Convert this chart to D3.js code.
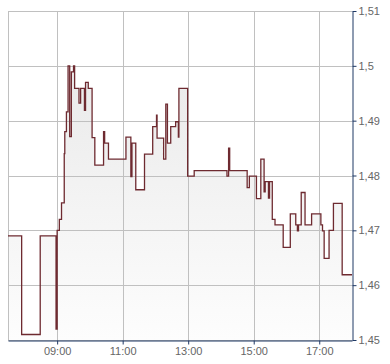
<!DOCTYPE html>
<html>
<head>
<meta charset="utf-8">
<script src="https://cdn.jsdelivr.net/npm/d3@7"></script>
<style>
  body { margin: 0; background: #fff; }
  svg { display: block; }
  .tick text { font: 11px "Liberation Sans", Arial, sans-serif; fill: #666; }
</style>
</head>
<body>
<svg id="chart"></svg>
<script>
// Intraday price steps (time, price)
const times = [
  '07:30','07:55','08:29','08:58','09:00','09:04','09:08','09:13','09:14','09:17',
  '09:20','09:23','09:26','09:30','09:32','09:40','09:43','09:50','09:52','09:57',
  '10:04','10:09','10:25','10:27','10:34','11:06','11:15','11:17','11:24','11:40',
  '11:55','12:02','12:03','12:15','12:19','12:22','12:28','12:37','12:42','12:43',
  '12:59','13:11','14:11','14:14','14:16','14:48','14:52','15:05','15:13','15:19',
  '15:21','15:27','15:29','15:34','15:39','15:54','16:07','16:17','16:20','16:22',
  '16:27','16:34','16:46','17:03','17:06','17:09','17:18','17:26','17:42','18:00'
];
const prices = [
  1.469, 1.451, 1.469, 1.452, 1.470, 1.472, 1.475, 1.484, 1.488, 1.4916,
  1.500, 1.4871, 1.4989, 1.500, 1.4959, 1.4932, 1.4959, 1.4919, 1.497, 1.4959,
  1.4869, 1.4819, 1.488, 1.4859, 1.483, 1.487, 1.4798, 1.4859, 1.4774, 1.4839,
  1.4889, 1.491, 1.4868, 1.483, 1.493, 1.4859, 1.4889, 1.4898, 1.487, 1.4959,
  1.4799, 1.4809, 1.4799, 1.485, 1.4809, 1.4778, 1.4799, 1.4758, 1.483, 1.477,
  1.4789, 1.4759, 1.4789, 1.472, 1.471, 1.4669, 1.473, 1.471, 1.4699, 1.471,
  1.4769, 1.471, 1.473, 1.471, 1.4699, 1.4649, 1.470, 1.4749, 1.4619, 1.4619
];
const xTickLabels = ['09:00', '11:00', '13:00', '15:00', '17:00'];
const yTicks = [1.45, 1.46, 1.47, 1.48, 1.49, 1.50, 1.51];
const xDomain = ['07:30', '18:00'];
const yDomain = [1.45, 1.51];

const width = 390, height = 364;
const margin = { top: 11, right: 38, bottom: 24, left: 8 };
const innerW = width - margin.left - margin.right;
const innerH = height - margin.top - margin.bottom;

const parseTime = d3.timeParse('%H:%M');
const data = times.map((t, i) => ({ t: parseTime(t), v: prices[i] }));

const svg = d3.select('#chart').attr('width', width).attr('height', height);

const x = d3.scaleTime().domain(xDomain.map(parseTime)).range([0, innerW]);
const y = d3.scaleLinear().domain(yDomain).range([innerH, 0]);

const defs = svg.append('defs');
const grad = defs.append('linearGradient')
  .attr('id', 'fillGrad')
  .attr('gradientUnits', 'userSpaceOnUse')
  .attr('x1', 0).attr('y1', 0).attr('x2', 0).attr('y2', innerH);
grad.append('stop').attr('offset', '0%').attr('stop-color', '#e6e6e6');
grad.append('stop').attr('offset', '100%').attr('stop-color', '#fdfdfd');

const g = svg.append('g').attr('transform', `translate(${margin.left},${margin.top})`);

// filled area under the step line
const area = d3.area()
  .curve(d3.curveStepAfter)
  .x(d => x(d.t))
  .y0(innerH)
  .y1(d => y(d.v));

g.append('path')
  .datum(data)
  .attr('d', area)
  .attr('fill', 'url(#fillGrad)');

// grid
const crisp = v => Math.round(v) + 0.5;
g.append('g').selectAll('line')
  .data(yTicks)
  .enter().append('line')
    .attr('x1', 0).attr('x2', innerW)
    .attr('y1', d => crisp(y(d))).attr('y2', d => crisp(y(d)))
    .attr('stroke', '#c0c0c0');

g.append('g').selectAll('line')
  .data(xTickLabels.map(parseTime))
  .enter().append('line')
    .attr('x1', d => crisp(x(d))).attr('x2', d => crisp(x(d)))
    .attr('y1', 0).attr('y2', innerH)
    .attr('stroke', '#c0c0c0');

// left border
g.append('line')
  .attr('x1', 0.5).attr('x2', 0.5).attr('y1', 0).attr('y2', innerH)
  .attr('stroke', '#c0c0c0');

// price line
const line = d3.line()
  .curve(d3.curveStepAfter)
  .x(d => x(d.t))
  .y(d => y(d.v));

g.append('path')
  .datum(data)
  .attr('d', line)
  .attr('fill', 'none')
  .attr('stroke', '#6e2a30')
  .attr('stroke-width', 1.3);

// axes
const axisColor = '#1f3864';
const fmt = d => String(+d.toFixed(2)).replace('.', ',');

const yAxis = g.append('g')
  .attr('transform', `translate(${innerW + 0.5},0)`)
  .call(d3.axisRight(y).tickValues(yTicks).tickFormat(fmt).tickSize(4).tickSizeOuter(0).tickPadding(2));
yAxis.select('.domain').attr('stroke', axisColor);
yAxis.selectAll('.tick line').attr('stroke', axisColor);

const xAxis = g.append('g')
  .attr('transform', `translate(0,${innerH + 0.5})`)
  .call(d3.axisBottom(x).tickValues(xTickLabels.map(parseTime)).tickFormat(d3.timeFormat('%H:%M')).tickSize(4).tickSizeOuter(0).tickPadding(3));
xAxis.select('.domain').attr('stroke', axisColor);
xAxis.selectAll('.tick line').attr('stroke', axisColor);
</script>
</body>
</html>
